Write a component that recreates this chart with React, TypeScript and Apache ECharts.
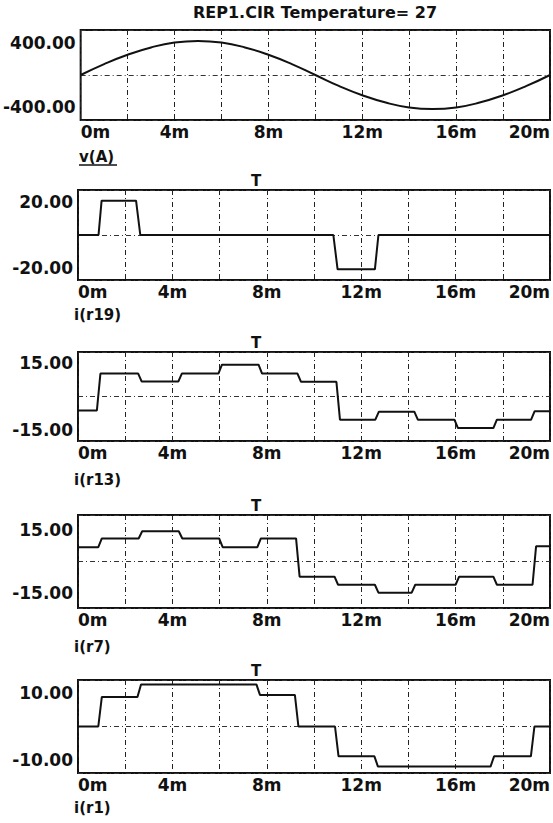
import React, { useEffect, useRef } from "react";
import * as echarts from "echarts";

// ---------- data ----------
const MAIN_TITLE = "REP1.CIR Temperature= 27";
const CURSOR_MARK = "T";
const traceNames = ["v(A)", "i(r19)", "i(r13)", "i(r7)", "i(r1)"];
const xTickValues = [0, 4, 8, 12, 16, 20];
const yRanges = [555, 27.5, 20, 21.8, 13.7];
const yLabelValues = [400, 20, 15, 15, 10];

// v(A): sine read at every 1 ms
const vATimes = [0, 1, 2, 3, 4, 5, 6, 7, 8, 9, 10, 11, 12, 13, 14, 15, 16, 17, 18, 19, 20];
const vAValues = [0, 135, 250, 340, 400, 420, 400, 340, 250, 135, 0, -135, -250, -340, -400, -420, -400, -340, -250, -135, 0];

// i(r19)
const r19Times = [0, 0.87, 1.0, 2.46, 2.64, 10.82, 11.0, 12.58, 12.73, 20];
const r19Values = [0, 0, 21, 21, 0, 0, -21, -21, 0, 0];

// i(r13): step levels between edges
const r13Edges = [0, 0.8, 2.55, 4.25, 5.95, 7.65, 9.3, 10.95, 12.6, 14.25, 15.95, 17.6, 19.2, 20];
const r13Levels = [-6.3, 10.3, 6.7, 10.3, 14.3, 10.3, 6.6, -10.4, -6.8, -10.4, -14.2, -10.4, -6.6];

// i(r7)
const r7Edges = [0, 0.86, 2.57, 4.27, 5.98, 7.6, 9.24, 10.87, 12.58, 14.14, 16.0, 17.6, 19.26, 20];
const r7Levels = [6.7, 10.8, 14.2, 10.8, 6.7, 10.8, -7.1, -10.9, -14.6, -10.9, -7.1, -10.9, 7.1];

// i(r1)
const r1Edges = [0, 0.86, 2.52, 7.56, 9.19, 10.89, 12.56, 17.48, 19.19, 20];
const r1Levels = [0, 8.7, 12.4, 9.3, 0, -8.8, -11.8, -8.8, 0];

// ---------- layout ----------
const GRID_LEFT = 78;
const GRID_WIDTH = 474;
const GRIDS = [
  { top: 30, height: 90 },
  { top: 190, height: 90 },
  { top: 352, height: 89 },
  { top: 515, height: 93 },
  { top: 680, height: 93 },
];
const RAMP = 0.15;
const FONT = "DejaVu Sans";

function stepPoints(edges: number[], levels: number[]) {
  const pts: number[][] = [];
  for (let i = 0; i < levels.length; i++) {
    const s = i === 0 ? edges[0] : edges[i] + RAMP;
    pts.push([s, levels[i]]);
    pts.push([edges[i + 1], levels[i]]);
  }
  return pts;
}
function zip(xs: number[], ys: number[]) {
  return xs.map((x, i) => [x, ys[i]]);
}

export default function App() {
  const ref = useRef<HTMLDivElement>(null);
  useEffect(() => {
    if (!ref.current) return;
    const chart = echarts.init(ref.current, null, { renderer: "svg" });
    const seriesData = [
      zip(vATimes, vAValues),
      zip(r19Times, r19Values),
      stepPoints(r13Edges, r13Levels),
      stepPoints(r7Edges, r7Levels),
      stepPoints(r1Edges, r1Levels),
    ];
    const dashDot = [5, 3, 1, 3];
    const grid = GRIDS.map((g) => ({
      left: GRID_LEFT,
      width: GRID_WIDTH,
      top: g.top,
      height: g.height,
      show: true,
      borderColor: "#111",
      borderWidth: 2,
      backgroundColor: "transparent",
    }));
    const xAxis = GRIDS.map((_, i) => ({
      type: "value",
      gridIndex: i,
      min: 0,
      max: 20,
      interval: 2,
      axisLine: { show: false },
      axisTick: { show: false },
      splitLine: { show: true, lineStyle: { color: "#222", width: 1, type: dashDot } },
      axisLabel: {
        customValues: xTickValues,
        formatter: (v: number) => `${v}m`,
        color: "#111",
        fontFamily: FONT,
        fontWeight: "bold",
        fontSize: 17,
        margin: 3,
        alignMinLabel: "left",
        alignMaxLabel: "right",
      },
    }));
    const yAxis = GRIDS.map((_, i) => ({
      type: "value",
      gridIndex: i,
      min: -yRanges[i],
      max: yRanges[i],
      interval: yRanges[i],
      axisLine: { show: false },
      axisTick: { show: false },
      splitLine: { show: true, lineStyle: { color: "#333", width: 1, type: dashDot } },
      axisLabel: {
        customValues: [-yLabelValues[i], yLabelValues[i]],
        formatter: (v: number) => v.toFixed(2),
        color: "#111",
        fontFamily: FONT,
        fontWeight: "bold",
        fontSize: 17,
        margin: 5,
      },
    }));
    const series = seriesData.map((d, i) => ({
      type: "line",
      xAxisIndex: i,
      yAxisIndex: i,
      data: d,
      smooth: i === 0,
      showSymbol: false,
      symbol: "none",
      lineStyle: { color: "#111", width: 2 },
    }));
    const textStyle = (size: number, weight: string) => ({
      fill: "#111",
      font: `${weight} ${size}px "${FONT}"`,
    });
    const graphic: any[] = [
      {
        type: "text",
        x: GRID_LEFT + GRID_WIDTH / 2,
        y: 12,
        style: { text: MAIN_TITLE, ...textStyle(16, "bold"), textAlign: "center", textVerticalAlign: "middle" },
      },
    ];
    GRIDS.forEach((g, i) => {
      if (i > 0) {
        graphic.push({
          type: "text",
          x: 256,
          y: g.top - 9,
          style: { text: CURSOR_MARK, ...textStyle(15, "bold"), textAlign: "center", textVerticalAlign: "middle" },
        });
      }
      const nameY = g.top + g.height + (i === 0 ? 37 : i === 2 || i === 3 ? 39 : 35);
      graphic.push({
        type: "text",
        x: i === 0 ? 79 : 74,
        y: nameY,
        style: { text: traceNames[i], ...textStyle(15, "bold"), textAlign: "left", textVerticalAlign: "middle" },
      });
    });
    graphic.push({
      type: "line",
      shape: { x1: 79, y1: 165, x2: 117, y2: 165 },
      style: { stroke: "#111", lineWidth: 1.5 },
    });
    chart.setOption({
      animation: false,
      backgroundColor: "#fff",
      grid,
      xAxis,
      yAxis,
      series,
      graphic,
    } as any);
    return () => chart.dispose();
  }, []);
  return (
    <div
      ref={ref}
      style={{ position: "fixed", left: 0, top: 0, width: 553, height: 823, background: "#fff" }}
    />
  );
}
